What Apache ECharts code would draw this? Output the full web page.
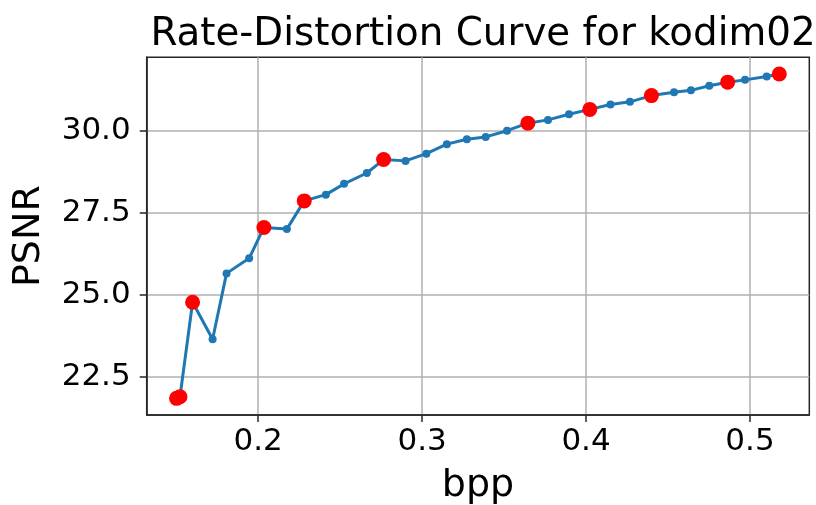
<!DOCTYPE html>
<html>
<head>
<meta charset="utf-8">
<script src="https://cdn.jsdelivr.net/npm/echarts@6/dist/echarts.min.js"></script>
<style>
  html, body { margin: 0; padding: 0; background: #fff; }
  #chart { width: 816px; height: 505px; }
</style>
</head>
<body>
<div id="chart"></div>
<script>
const chartTitle = 'Rate-Distortion Curve for kodim02';
const xName = 'bpp';
const yName = 'PSNR';
const bpp = [0.1502, 0.1523, 0.1600, 0.1722, 0.1807, 0.1945, 0.2035, 0.2175, 0.2281, 0.2413,
             0.2524, 0.2663, 0.2765, 0.2899, 0.3026, 0.3151, 0.3273, 0.3388, 0.3518, 0.3645,
             0.3768, 0.3896, 0.4023, 0.4149, 0.4268, 0.4399, 0.4537, 0.4640, 0.4752, 0.4864,
             0.4970, 0.5102, 0.5179];
const psnr = [21.84, 21.89, 24.77, 23.64, 25.65, 26.11, 27.05, 27.00, 27.86, 28.05,
              28.38, 28.71, 29.12, 29.08, 29.30, 29.59, 29.74, 29.81, 30.00, 30.23,
              30.33, 30.50, 30.65, 30.80, 30.88, 31.07, 31.17, 31.23, 31.37, 31.48,
              31.55, 31.65, 31.73];
const highlighted = [0, 1, 2, 6, 8, 12, 19, 22, 25, 29, 32];
const xTicks = [0.2, 0.3, 0.4, 0.5];
const yTicks = [22.5, 25.0, 27.5, 30.0];

const lineData = bpp.map((b, i) => [b, psnr[i]]);
const redData = highlighted.map(i => [bpp[i], psnr[i]]);

const font = 'DejaVu Sans';
const chart = echarts.init(document.getElementById('chart'), null, { renderer: 'canvas' });
chart.setOption({
  animation: false,
  backgroundColor: '#ffffff',
  title: {
    text: chartTitle,
    left: 478,
    top: 10,
    textAlign: 'center',
    textStyle: { fontFamily: font, fontSize: 38.8, fontWeight: 'normal', color: '#000' }
  },
  grid: {
    left: 146.7, right: 6.7, top: 57.3, bottom: 90,
    outerBoundsMode: 'none',
    containLabel: false,
    show: true, borderColor: '#262626', borderWidth: 1.5, backgroundColor: 'transparent'
  },
  xAxis: {
    type: 'value',
    min: 0.132, max: 0.5362,
    interval: 0.1,
    name: xName,
    nameLocation: 'middle',
    nameGap: 52,
    nameTextStyle: { fontFamily: font, fontSize: 38, color: '#000' },
    axisLine: { show: true, onZero: false, lineStyle: { color: '#262626', width: 1.5 } },
    axisTick: { show: true, inside: false, length: 7, lineStyle: { color: '#262626', width: 1.5 },
      customValues: xTicks },
    axisLabel: { fontFamily: font, fontSize: 31, color: '#000', margin: 11,
      customValues: xTicks,
      formatter: v => v.toFixed(1) },
    splitLine: { show: true, lineStyle: { color: '#b0b0b0', width: 1.5 } }
  },
  yAxis: {
    type: 'value',
    min: 21.332, max: 32.238,
    interval: 2.5,
    name: yName,
    nameLocation: 'middle',
    nameGap: 99,
    nameRotate: 90,
    nameTextStyle: { fontFamily: font, fontSize: 38, color: '#000' },
    axisLine: { show: true, onZero: false, lineStyle: { color: '#262626', width: 1.5 } },
    axisTick: { show: true, inside: false, length: 7, lineStyle: { color: '#262626', width: 1.5 },
      customValues: yTicks },
    axisLabel: { fontFamily: font, fontSize: 31, color: '#000', margin: 16,
      customValues: yTicks,
      formatter: v => v.toFixed(1) },
    splitLine: { show: true, lineStyle: { color: '#b0b0b0', width: 1.5 } }
  },
  series: [
    {
      type: 'line',
      data: lineData,
      symbol: 'circle',
      symbolSize: 8,
      showAllSymbol: true,
      itemStyle: { color: '#1f77b4' },
      lineStyle: { color: '#1f77b4', width: 3 },
      z: 2
    },
    {
      type: 'scatter',
      data: redData,
      symbol: 'circle',
      symbolSize: 15,
      itemStyle: { color: '#ff0000', opacity: 1 },
      z: 3
    }
  ]
});
</script>
</body>
</html>
